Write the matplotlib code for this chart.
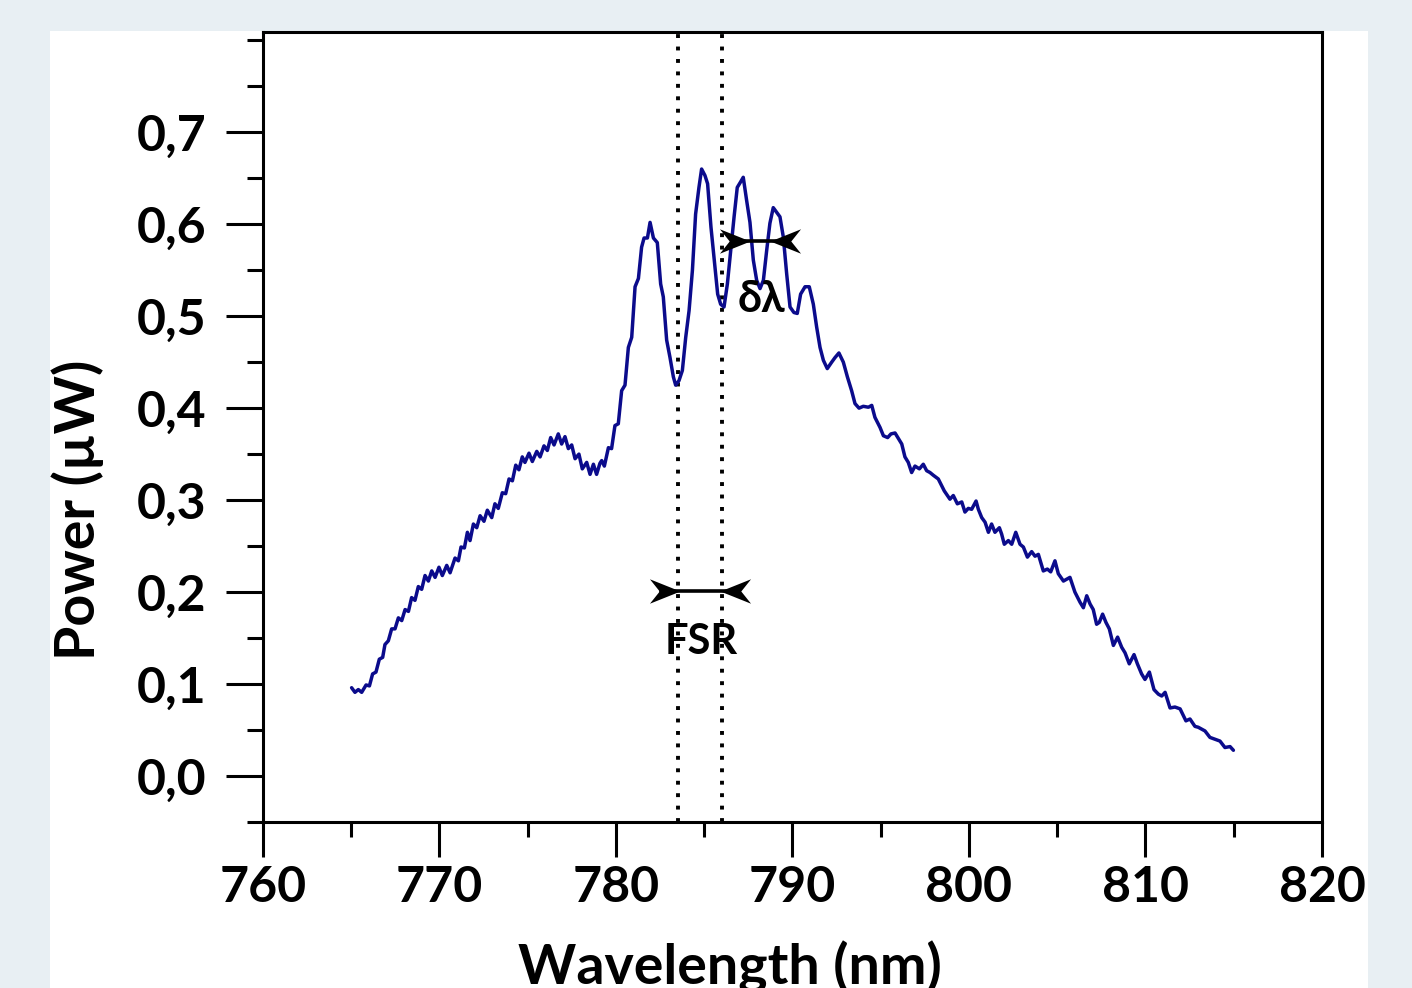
import numpy as np
import matplotlib
matplotlib.use('Agg')
import matplotlib.pyplot as plt
from matplotlib.path import Path
from matplotlib.patches import Rectangle
from matplotlib.ticker import MultipleLocator, FuncFormatter

plt.rcParams['font.family'] = ['Lato', 'DejaVu Sans']
plt.rcParams['font.weight'] = 'bold'

# spectrum (nm, uW)
wavelength = [
    765.02, 765.21, 765.40, 765.59, 765.84, 766.03, 766.21, 766.40, 766.59, 766.78,
    766.91, 767.10, 767.29, 767.48, 767.67, 767.86, 768.05, 768.24, 768.42, 768.61,
    768.80, 768.99, 769.18, 769.37, 769.56, 769.75, 769.97, 770.16, 770.41, 770.60,
    770.88, 771.07, 771.22, 771.41, 771.58, 771.73, 771.92, 772.11, 772.30, 772.52,
    772.71, 772.96, 773.14, 773.33, 773.56, 773.75, 773.94, 774.13, 774.32, 774.50,
    774.69, 774.84, 775.07, 775.26, 775.51, 775.70, 775.92, 776.11, 776.30, 776.49,
    776.73, 776.92, 777.11, 777.30, 777.49, 777.68, 777.90, 778.09, 778.34, 778.53,
    778.72, 778.90, 779.09,
    779.19, 779.34, 779.57, 779.75, 779.94, 780.13, 780.32, 780.51, 780.70, 780.89,
    781.08, 781.27, 781.45, 781.59, 781.78, 781.93, 782.12, 782.34, 782.53, 782.68,
    782.87, 783.06, 783.25, 783.38, 783.57, 783.76, 783.95, 784.14, 784.33, 784.51,
    784.70, 784.85, 785.04, 785.19, 785.38, 785.57, 785.76, 785.93, 786.12, 786.31,
    786.50, 786.69, 786.87, 787.06, 787.21, 787.40, 787.59, 787.78, 787.97, 788.16,
    788.35, 788.54, 788.72, 788.91, 789.10, 789.29, 789.48, 789.67, 789.86, 790.08,
    790.27,
    790.46, 790.71, 790.95, 791.18, 791.37, 791.56, 791.75, 791.97, 792.22, 792.41,
    792.63, 792.88, 793.11, 793.35, 793.54, 793.77, 794.01, 794.30, 794.49, 794.67,
    794.96, 795.15, 795.39, 795.58, 795.81, 796.00, 796.19, 796.37, 796.56, 796.75,
    796.94, 797.19, 797.41, 797.60, 797.79, 797.98, 798.26, 798.60,
    798.92, 799.11, 799.34, 799.59, 799.77, 799.96, 800.15, 800.40, 800.53, 800.72,
    800.91, 801.10, 801.28, 801.47, 801.72, 801.85, 802.00, 802.23, 802.42, 802.65,
    802.89, 803.08, 803.31, 803.55, 803.74, 803.93, 804.21, 804.44, 804.63, 804.87,
    805.06, 805.35, 805.72, 806.00,
    806.29, 806.48, 806.67, 806.86, 807.04, 807.23, 807.38, 807.57, 807.76, 807.95,
    808.18, 808.42, 808.65, 808.84, 809.08, 809.35, 809.54, 809.78, 809.97, 810.22,
    810.48, 810.73, 810.92, 811.11, 811.39, 811.67, 811.96, 812.29, 812.52, 812.80,
    812.99, 813.37, 813.65, 813.94, 814.22, 814.50, 814.79, 814.98,
]
power = [
    0.096, 0.091, 0.094, 0.091, 0.099, 0.098, 0.111, 0.113, 0.127, 0.129,
    0.143, 0.147, 0.160, 0.160, 0.172, 0.169, 0.181, 0.179, 0.194, 0.191,
    0.206, 0.203, 0.218, 0.212, 0.223, 0.216, 0.227, 0.218, 0.229, 0.221,
    0.237, 0.234, 0.249, 0.248, 0.265, 0.256, 0.274, 0.270, 0.283, 0.277,
    0.289, 0.281, 0.296, 0.291, 0.308, 0.307, 0.323, 0.321, 0.338, 0.333,
    0.347, 0.341, 0.351, 0.342, 0.353, 0.347, 0.359, 0.354, 0.368, 0.360,
    0.372, 0.361, 0.369, 0.356, 0.360, 0.345, 0.350, 0.334, 0.341, 0.328,
    0.339, 0.328, 0.340,
    0.343, 0.337, 0.357, 0.356, 0.381, 0.383, 0.419, 0.425, 0.466, 0.477,
    0.532, 0.541, 0.575, 0.585, 0.585, 0.602, 0.585, 0.580, 0.535, 0.521,
    0.474, 0.455, 0.434, 0.425, 0.430, 0.441, 0.477, 0.506, 0.550, 0.611,
    0.640, 0.660, 0.653, 0.644, 0.597, 0.561, 0.524, 0.513, 0.510, 0.535,
    0.572, 0.608, 0.640, 0.646, 0.651, 0.626, 0.602, 0.561, 0.539, 0.530,
    0.539, 0.572, 0.601, 0.618, 0.613, 0.608, 0.586, 0.546, 0.510, 0.504,
    0.503,
    0.524, 0.532, 0.532, 0.513, 0.488, 0.466, 0.452, 0.443, 0.450, 0.455,
    0.460, 0.450, 0.434, 0.419, 0.405, 0.400, 0.402, 0.401, 0.403, 0.390,
    0.379, 0.370, 0.368, 0.372, 0.373, 0.367, 0.361, 0.347, 0.341, 0.330,
    0.337, 0.334, 0.339, 0.332, 0.330, 0.327, 0.323, 0.310,
    0.301, 0.305, 0.296, 0.298, 0.287, 0.291, 0.290, 0.299, 0.290, 0.281,
    0.276, 0.265, 0.274, 0.265, 0.270, 0.263, 0.252, 0.256, 0.252, 0.265,
    0.252, 0.249, 0.238, 0.244, 0.239, 0.241, 0.223, 0.225, 0.222, 0.234,
    0.220, 0.212, 0.216, 0.200,
    0.189, 0.183, 0.196, 0.187, 0.181, 0.165, 0.167, 0.176, 0.167, 0.160,
    0.142, 0.151, 0.140, 0.134, 0.122, 0.132, 0.122, 0.111, 0.105, 0.113,
    0.094, 0.089, 0.087, 0.091, 0.074, 0.075, 0.073, 0.060, 0.062, 0.054,
    0.053, 0.049, 0.042, 0.040, 0.038, 0.031, 0.032, 0.028,
]

# annotation positions (nm)
fsr_lines = [783.5, 786.0]
fsr_arrow = (782.04, 783.63, 785.89, 787.48, 0.201)   # back, tip, tip, back, y
dl_arrow = (786.18, 787.59, 788.73, 790.31, 0.582)

fig = plt.figure(figsize=(14.12, 9.88), dpi=100)
fig.patch.set_facecolor('#e8eff3')
fig.patches.append(Rectangle((50 / 1412, 0), 1318 / 1412, 957 / 988,
                             transform=fig.transFigure, facecolor='white',
                             edgecolor='none', zorder=-10))

ax = fig.add_axes([263 / 1412, 1 - 822 / 988, 1059 / 1412, 790 / 988])
ax.set_facecolor('white')

ax.plot(wavelength, power, color='#0b0b8c', lw=2.5, zorder=3,
        solid_joinstyle='round', solid_capstyle='round')

for xv in fsr_lines:
    ax.axvline(xv, color='black', lw=2.8, linestyle=(0, (1.0, 2.2)),
               dash_capstyle='butt', zorder=2)

# stealth arrowhead marker, tip at the origin
head_r = Path([(0, 0), (-1, 0.4), (-0.68, 0), (-1, -0.4), (0, 0)],
              [Path.MOVETO, Path.LINETO, Path.LINETO, Path.LINETO, Path.CLOSEPOLY])
head_l = Path([(0, 0), (1, 0.4), (0.68, 0), (1, -0.4), (0, 0)],
              [Path.MOVETO, Path.LINETO, Path.LINETO, Path.LINETO, Path.CLOSEPOLY])

for b0, t0, t1, b1, yv in (fsr_arrow, dl_arrow):
    ax.plot([b0 + 0.5, b1 - 0.5], [yv, yv], color='black', lw=2.6, zorder=4)
    ax.plot([t0], [yv], marker=head_r, markersize=44, color='black',
            markeredgewidth=0, zorder=5)
    ax.plot([t1], [yv], marker=head_l, markersize=44, color='black',
            markeredgewidth=0, zorder=5)

ax.text(784.82, 0.146, 'FSR', fontsize=30, fontweight='bold',
        ha='center', va='center', zorder=6)
ax.text(788.22, 0.519, 'δλ', fontsize=31, fontweight='bold',
        ha='center', va='center', zorder=6)

ax.set_xlim(760, 820)
ax.set_ylim(-0.05, 0.809)
ax.xaxis.set_major_locator(MultipleLocator(10))
ax.xaxis.set_minor_locator(MultipleLocator(5))
ax.yaxis.set_major_locator(MultipleLocator(0.1))
ax.yaxis.set_minor_locator(MultipleLocator(0.05))
ax.yaxis.set_major_formatter(FuncFormatter(lambda v, p: f'{v:.1f}'.replace('.', ',')))
ax.set_yticks([t / 10 for t in range(8)])

for s in ax.spines.values():
    s.set_linewidth(2.2)

ax.tick_params(axis='both', which='both', direction='out', width=2.2,
               labelsize=36, top=False, right=False)
ax.tick_params(axis='y', which='major', length=26.5, pad=14)
ax.tick_params(axis='y', which='minor', length=11.5)
ax.tick_params(axis='x', which='major', length=25, pad=6)
ax.tick_params(axis='x', which='minor', length=11)
for lab in ax.get_xticklabels() + ax.get_yticklabels():
    lab.set_fontweight('bold')

ax.set_xlabel('Wavelength (nm)', fontsize=40, fontweight='bold')
ax.set_ylabel('Power (µW)', fontsize=40, fontweight='bold')
ax.xaxis.set_label_coords(0.441, -0.150)
ax.yaxis.set_label_coords(-0.150, 0.3956)

fig.savefig('out.png', dpi=100)
